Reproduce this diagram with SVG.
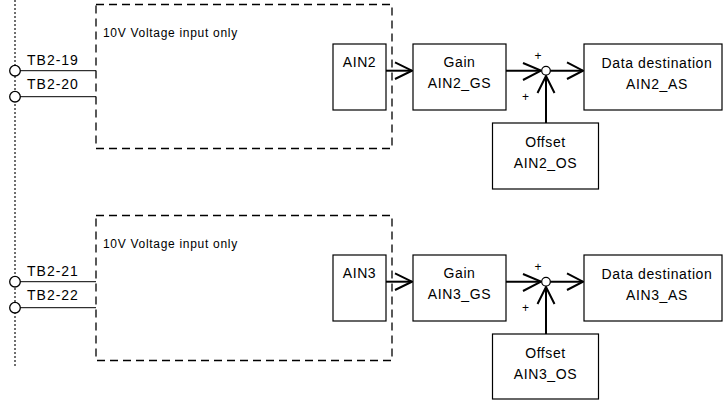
<svg xmlns="http://www.w3.org/2000/svg" width="723" height="400" viewBox="0 0 723 400">
<style>
text{font-family:"Liberation Sans","Noto Sans CJK JP",sans-serif;fill:#000}
.lbl{font-size:14px;letter-spacing:1px}
.t{font-size:14px;letter-spacing:0.6px;text-anchor:middle}
.note{font-size:12px;letter-spacing:0.7px}
.plus{font-size:12px;text-anchor:middle}
.box{fill:#fff;stroke:#000;stroke-width:1.2}
.dash{fill:none;stroke:#000;stroke-width:1.3;stroke-dasharray:8 5}
.wire{fill:none;stroke:#000;stroke-width:1}
.arr{fill:none;stroke:#000;stroke-width:2}
.term{fill:#fff;stroke:#000;stroke-width:1.3}
.sum{fill:#fff;stroke:#000;stroke-width:1.2}
</style>
<rect width="723" height="400" fill="#fff"/>
<line x1="15" y1="0" x2="15" y2="367" stroke="#333" stroke-width="1.4" stroke-dasharray="2 2"/>

<g id="connectors">
  <line class="wire" x1="20" y1="70.7" x2="96" y2="70.7"/>
  <line class="wire" x1="20" y1="96.7" x2="96" y2="96.7"/>
  <line class="arr" x1="386" y1="70.7" x2="412" y2="70.7"/>
  <polyline class="arr" points="395,62.3 412,70.7 395,79"/>
  <line class="arr" x1="506" y1="70.7" x2="541" y2="70.7"/>
  <polyline class="arr" points="523,63 541,70.7 523,80"/>
  <line class="arr" x1="546" y1="123" x2="546" y2="76"/>
  <polyline class="arr" points="537.5,93 546,76 554.5,93"/>
  <line class="arr" x1="550" y1="70.7" x2="583" y2="70.7"/>
  <polyline class="arr" points="567,62.3 583,70.7 567,79"/>
  <line class="wire" x1="20" y1="281.7" x2="96" y2="281.7"/>
  <line class="wire" x1="20" y1="307.7" x2="96" y2="307.7"/>
  <line class="arr" x1="386" y1="281.7" x2="412" y2="281.7"/>
  <polyline class="arr" points="395,273.3 412,281.7 395,290"/>
  <line class="arr" x1="506" y1="281.7" x2="541" y2="281.7"/>
  <polyline class="arr" points="523,274 541,281.7 523,291"/>
  <line class="arr" x1="546" y1="334" x2="546" y2="287"/>
  <polyline class="arr" points="537.5,304 546,287 554.5,304"/>
  <line class="arr" x1="550" y1="281.7" x2="583" y2="281.7"/>
  <polyline class="arr" points="567,273.3 583,281.7 567,290"/>
</g>

<g id="terminals1">
  <circle class="term" cx="15" cy="70.7" r="5.3"/>
  <circle class="term" cx="15" cy="96.7" r="5.3"/>
  <text class="lbl" x="27" y="65">TB2-19</text>
  <text class="lbl" x="27" y="88.5">TB2-20</text>
</g>
<g id="input-area1">
  <rect class="dash" x="96" y="4.5" width="296" height="144"/>
  <text class="note" x="103" y="36.5">10V Voltage input only</text>
</g>
<g id="ain2">
  <rect class="box" x="333" y="44" width="53" height="66"/>
  <text class="t" x="359.5" y="67.3">AIN2</text>
</g>
<g id="gain2">
  <rect class="box" x="413" y="44" width="93" height="66"/>
  <text class="t" x="459.5" y="66.7">Gain</text>
  <text class="t" x="459.5" y="87.5">AIN2_GS</text>
</g>
<g id="sum2">
  <circle class="sum" cx="546" cy="70.7" r="4.3"/>
  <text class="plus" x="538" y="60">+</text>
  <text class="plus" x="525.5" y="101">+</text>
</g>
<g id="offset2">
  <rect class="box" x="492.5" y="123" width="106" height="66"/>
  <text class="t" x="545.5" y="147">Offset</text>
  <text class="t" x="545.5" y="167.5">AIN2_OS</text>
</g>
<g id="dest2">
  <rect class="box" x="584" y="44" width="138" height="66"/>
  <text class="t" x="657" y="67.5">Data destination</text>
  <text class="t" x="657" y="88.5">AIN2_AS</text>
</g>

<g id="terminals2">
  <circle class="term" cx="15" cy="281.7" r="5.3"/>
  <circle class="term" cx="15" cy="307.7" r="5.3"/>
  <text class="lbl" x="27" y="276">TB2-21</text>
  <text class="lbl" x="27" y="299.5">TB2-22</text>
</g>
<g id="input-area2">
  <rect class="dash" x="96" y="215.5" width="296" height="145"/>
  <text class="note" x="103" y="247.5">10V Voltage input only</text>
</g>
<g id="ain3">
  <rect class="box" x="333" y="255" width="53" height="66"/>
  <text class="t" x="359.5" y="278.3">AIN3</text>
</g>
<g id="gain3">
  <rect class="box" x="413" y="255" width="93" height="66"/>
  <text class="t" x="459.5" y="277.7">Gain</text>
  <text class="t" x="459.5" y="298.5">AIN3_GS</text>
</g>
<g id="sum3">
  <circle class="sum" cx="546" cy="281.7" r="4.3"/>
  <text class="plus" x="538" y="271">+</text>
  <text class="plus" x="525.5" y="312">+</text>
</g>
<g id="offset3">
  <rect class="box" x="492.5" y="334" width="106" height="65"/>
  <text class="t" x="545.5" y="358">Offset</text>
  <text class="t" x="545.5" y="378.5">AIN3_OS</text>
</g>
<g id="dest3">
  <rect class="box" x="584" y="255" width="138" height="66"/>
  <text class="t" x="657" y="278.5">Data destination</text>
  <text class="t" x="657" y="299.5">AIN3_AS</text>
</g>
</svg>
